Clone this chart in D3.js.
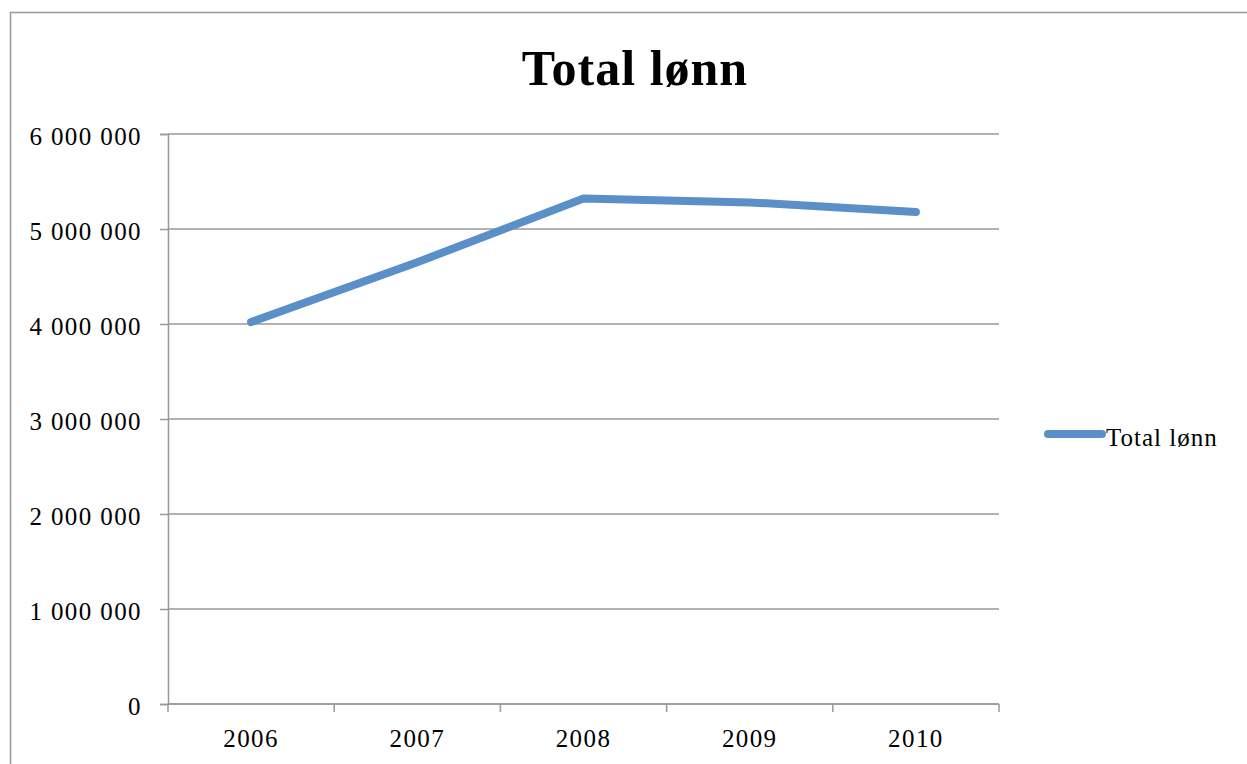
<!DOCTYPE html>
<html>
<head>
<meta charset="utf-8">
<script src="https://d3js.org/d3.v7.min.js"></script>
<style>
  body { margin: 0; background: #fff; }
  text { font-family: "Liberation Serif", "DejaVu Serif", serif; fill: #000; }
</style>
</head>
<body>
<script>
    // Data
    var years = ["2006", "2007", "2008", "2009", "2010"];
    var totalLonn = [4020000, 4650000, 5320000, 5280000, 5180000];
    var yTicks = [0, 1000000, 2000000, 3000000, 4000000, 5000000, 6000000];
    var seriesName = "Total lønn";

    var W = 1247, H = 764;
    var margin = {top: 134, left: 168, right: 248, bottom: 60};
    var width = W - margin.left - margin.right,   // 831
        height = H - margin.top - margin.bottom;  // 570

    var svg = d3.select("body").append("svg")
        .attr("width", W)
        .attr("height", H);

    // Outer chart border
    svg.append("rect")
        .attr("x", 10.5).attr("y", 12.5)
        .attr("width", W + 20).attr("height", H + 20)
        .attr("fill", "none")
        .attr("stroke", "#999")
        .attr("stroke-width", 1.5);

    var g = svg.append("g")
        .attr("transform", "translate(" + margin.left + "," + margin.top + ")");

    var x = d3.scaleBand().domain(years).range([0, width]);
    var y = d3.scaleLinear().domain([0, 6000000]).range([height, 0]);

    var fmt = function(d) {
        return d3.format(",")(d).replace(/,/g, " ");
    };

    // Horizontal gridlines
    g.append("g")
        .selectAll("line")
        .data(yTicks)
        .enter().append("line")
        .attr("x1", 0).attr("x2", width)
        .attr("y1", function(d) { return y(d); })
        .attr("y2", function(d) { return y(d); })
        .attr("stroke", "#999")
        .attr("stroke-width", 1.5);

    // Y axis
    var yAxis = g.append("g")
        .call(d3.axisLeft(y).tickValues(yTicks).tickFormat(fmt).tickSize(8).tickPadding(18));
    yAxis.select(".domain").attr("stroke", "#999").attr("stroke-width", 1.5);
    yAxis.selectAll(".tick line").attr("stroke", "#999").attr("stroke-width", 1.5);
    yAxis.selectAll("text")
        .style("font-family", "'Liberation Serif', serif")
        .style("font-size", "25px")
        .style("letter-spacing", "1.4px")
        .attr("dy", "0.42em")
        .attr("fill", "#000");

    // X axis: ticks between categories
    var xAxis = g.append("g")
        .attr("transform", "translate(0," + height + ")");
    xAxis.append("line")
        .attr("x1", 0).attr("x2", width)
        .attr("stroke", "#999").attr("stroke-width", 1.5);
    var edges = years.map(function(d) { return x(d); }).concat([width]);
    xAxis.selectAll(".edge")
        .data(edges)
        .enter().append("line")
        .attr("class", "edge")
        .attr("x1", function(d) { return d; })
        .attr("x2", function(d) { return d; })
        .attr("y1", 0).attr("y2", 8)
        .attr("stroke", "#999").attr("stroke-width", 1.5);
    xAxis.selectAll(".lab")
        .data(years)
        .enter().append("text")
        .attr("class", "lab")
        .attr("x", function(d) { return x(d) + x.bandwidth() / 2; })
        .attr("y", 43)
        .attr("text-anchor", "middle")
        .style("font-size", "25px")
        .style("letter-spacing", "1.4px")
        .text(function(d) { return d; });

    // Series line
    var line = d3.line()
        .x(function(d, i) { return x(years[i]) + x.bandwidth() / 2; })
        .y(function(d) { return y(d); });

    g.append("path")
        .datum(totalLonn)
        .attr("d", line)
        .attr("fill", "none")
        .attr("stroke", "#5b8fc7")
        .attr("stroke-width", 8)
        .attr("stroke-linecap", "round")
        .attr("stroke-linejoin", "round");

    // Title
    svg.append("text")
        .attr("x", 635)
        .attr("y", 85)
        .attr("text-anchor", "middle")
        .style("font-size", "50px")
        .style("font-weight", "bold")
        .style("letter-spacing", "1px")
        .text(seriesName);

    // Legend
    var legend = svg.append("g").attr("transform", "translate(1048,434)");
    legend.append("line")
        .attr("x1", 0).attr("x2", 54)
        .attr("stroke", "#5b8fc7")
        .attr("stroke-width", 8)
        .attr("stroke-linecap", "round");
    legend.append("text")
        .attr("x", 58)
        .attr("y", 12)
        .style("font-size", "25px")
        .style("letter-spacing", "1px")
        .text(seriesName);
</script>
</body>
</html>
